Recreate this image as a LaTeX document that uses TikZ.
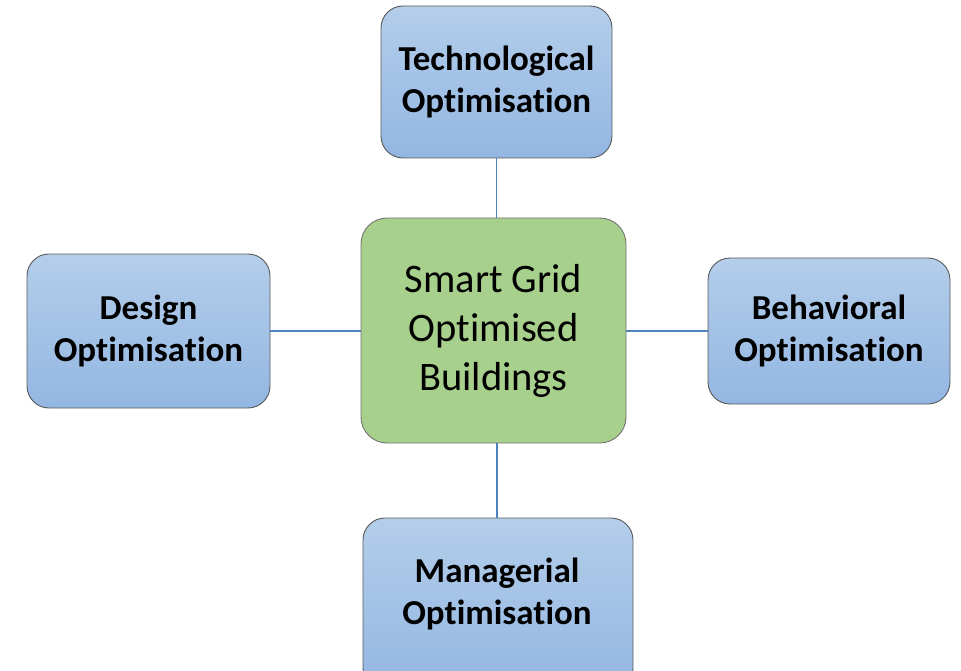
\documentclass[tikz,border=0pt]{standalone}
\usepackage{fontspec}
\setmainfont[Ligatures=NoCommon]{Carlito}
\begin{document}
\begin{tikzpicture}[x=1pt,y=-1pt,
  optbox/.style={draw=black!65, line width=0.9pt, rounded corners=22pt, top color=blue1, bottom color=blue2},
  opttext/.style={align=center, font=\fontsize{35}{42}\selectfont\bfseries},
  hubbox/.style={draw=black!55, line width=0.9pt, rounded corners=26pt, fill=green1},
  hubtext/.style={align=center, font=\fontsize{40.5}{49}\selectfont},
  frame/.style={minimum width=#1, inner sep=0pt},
  link/.style={draw=linkblue, line width=1.1pt}]
\definecolor{blue1}{HTML}{B4CEEA}
\definecolor{blue2}{HTML}{93B6E2}
\definecolor{green1}{HTML}{A8D08D}
\definecolor{linkblue}{HTML}{4F81BD}
\useasboundingbox (0,0) rectangle (961,671);
\clip (0,0) rectangle (961,671);
\path[hubbox] (361,218) rectangle (626,443);
\node[hubtext] (hub) at (493.5,330.5) {Smart Grid\\Optimised\\Buildings};
\node[minimum width=265pt, minimum height=225pt, inner sep=0pt] (hubr) at (493.5,330.5) {};
\path[optbox] (381,6) rectangle (612,158);
\node[opttext] (tech) at (496.5,82) {Technological\\Optimisation};
\node[minimum width=231pt, minimum height=152pt, inner sep=0pt] (techr) at (496.5,82) {};
\path[optbox] (27,254) rectangle (270,408);
\node[opttext] (design) at (148.5,331) {Design\\Optimisation};
\node[minimum width=243pt, minimum height=154pt, inner sep=0pt] (designr) at (148.5,331) {};
\path[optbox] (708,258) rectangle (950,404);
\node[opttext] (beh) at (829,331) {Behavioral\\Optimisation};
\node[minimum width=242pt, minimum height=146pt, inner sep=0pt] (behr) at (829,331) {};
\path[optbox] (363,518) rectangle (633,690);
\node[opttext] (man) at (497,594) {Managerial\\Optimisation};
\node[minimum width=270pt, minimum height=172pt, inner sep=0pt] (manr) at (497,604) {};
\coordinate (tb) at (techr.south |- hubr.north);
\coordinate (dl) at (designr.east -| hubr.west);
\coordinate (br) at (behr.west -| hubr.east);
\coordinate (mb) at (manr.north |- hubr.south);
\draw[link] (techr.south) -- (tb);
\draw[link] (designr.east) -- (dl);
\draw[link] (br) -- (behr.west);
\draw[link] (mb) -- (manr.north);
\end{tikzpicture}
\end{document}
